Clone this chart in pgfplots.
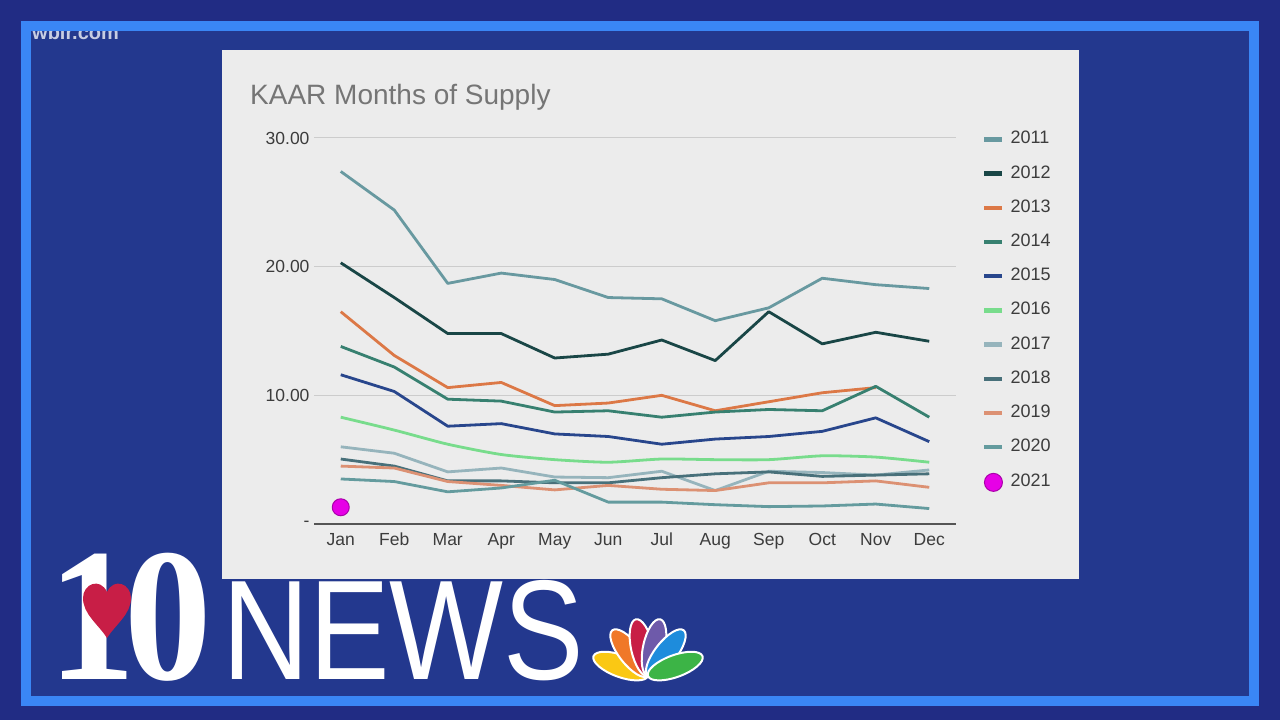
\documentclass[border=0pt]{standalone}
\usepackage{fontspec}
\setmainfont{Liberation Sans}
\newfontfamily\serifb{Liberation Serif}
\usepackage{pgfplots}
\usepackage{pgfplotstable}
\pgfplotsset{compat=1.18}

\definecolor{bgblue}{RGB}{33,44,132}
\definecolor{innerblue}{RGB}{35,56,142}
\definecolor{framecol}{RGB}{58,134,245}
\definecolor{panelgray}{RGB}{236,236,236}
\definecolor{gridgray}{RGB}{204,204,204}
\definecolor{axisdark}{RGB}{85,85,85}
\definecolor{tickcol}{RGB}{60,60,60}
\definecolor{titlecol}{RGB}{117,117,117}
\definecolor{c2011}{RGB}{104,153,160}
\definecolor{c2012}{RGB}{25,70,70}
\definecolor{c2013}{RGB}{220,120,70}
\definecolor{c2014}{RGB}{55,128,112}
\definecolor{c2015}{RGB}{40,70,140}
\definecolor{c2016}{RGB}{120,220,140}
\definecolor{c2017}{RGB}{150,180,188}
\definecolor{c2018}{RGB}{72,112,122}
\definecolor{c2019}{RGB}{220,145,115}
\definecolor{c2020}{RGB}{100,155,158}
\definecolor{c2021}{RGB}{230,0,230}
\definecolor{c2021d}{RGB}{170,0,170}
\definecolor{heartred}{RGB}{200,30,70}
\definecolor{pyellow}{RGB}{250,200,20}
\definecolor{porange}{RGB}{240,120,40}
\definecolor{pred}{RGB}{200,30,70}
\definecolor{ppurple}{RGB}{110,90,170}
\definecolor{pblue}{RGB}{30,140,220}
\definecolor{pgreen}{RGB}{60,180,70}

\pgfplotstableread{
m y2011 y2012 y2013 y2014 y2015 y2016 y2017 y2018 y2019 y2020
0 27.4 20.3 16.5 13.8 11.6 8.3 6.0 5.05 4.5 3.5
1 24.4 17.6 13.1 12.2 10.3 7.3 5.5 4.5 4.35 3.3
2 18.7 14.8 10.6 9.7 7.6 6.2 4.05 3.35 3.3 2.5
3 19.5 14.8 11.0 9.55 7.8 5.4 4.35 3.35 3.0 2.8
4 19.0 12.9 9.2 8.7 7.0 5.0 3.65 3.2 2.65 3.4
5 17.6 13.2 9.4 8.8 6.8 4.8 3.6 3.2 3.0 1.7
6 17.5 14.3 10.0 8.3 6.2 5.05 4.1 3.6 2.7 1.7
7 15.8 12.7 8.8 8.7 6.6 5.0 2.6 3.9 2.6 1.5
8 16.8 16.5 9.5 8.9 6.8 5.0 4.1 4.05 3.2 1.35
9 19.1 14.0 10.2 8.8 7.2 5.3 4.0 3.7 3.2 1.4
10 18.6 14.9 10.6 10.7 8.25 5.2 3.8 3.8 3.35 1.55
11 18.3 14.2 nan 8.3 6.4 4.8 4.2 3.9 2.85 1.2
}\datatable

\begin{document}
\begin{tikzpicture}
\useasboundingbox (0pt,0pt) rectangle (1280pt,720pt);
\clip (0pt,0pt) rectangle (1280pt,720pt);
\fill[bgblue] (0pt,0pt) rectangle (1280pt,720pt);
\fill[innerblue] (26pt,19pt) rectangle (1254pt,693.5pt);
\node[anchor=base west, inner sep=0pt, text=white, opacity=0.75,
      font=\fontsize{20}{22}\selectfont\bfseries] at (32pt,680pt) {wbir.com};
\draw[framecol, line width=10pt] (26pt,19pt) rectangle (1254pt,693.5pt);
\fill[panelgray] (222pt,141pt) rectangle (1079pt,670pt);
\node[anchor=base west, inner sep=0pt, text=titlecol,
      font=\fontsize{28}{30}\selectfont] at (250pt,615pt) {KAAR Months of Supply};

\begin{axis}[
  at={(314pt,196pt)}, anchor=south west,
  scale only axis, width=642pt, height=386pt,
  xmin=-0.5, xmax=11.5, ymin=0, ymax=30,
  xtick={0,...,11},
  xticklabels={Jan,Feb,Mar,Apr,May,Jun,Jul,Aug,Sep,Oct,Nov,Dec},
  ytick={10,20,30}, yticklabels={10.00,20.00,30.00},
  extra y ticks={0}, extra y tick labels={-},
  extra y tick style={grid style={draw=axisdark, line width=2pt}},
  ymajorgrids, grid style={draw=gridgray, line width=1pt},
  axis line style={draw=none},
  major tick length=0pt, tick style={draw=none},
  tick label style={font=\fontsize{17.5}{20}\selectfont, text=tickcol},
  xticklabel style={text height=13pt, text depth=4pt, yshift=-5pt},
  yticklabel style={xshift=-1pt},
  clip=false,
  legend cell align=left,
  legend style={at={(rel axis cs:1.0405,1.019)}, anchor=north west,
    draw=none, fill=none, inner sep=0pt,
    font=\fontsize{18}{20}\selectfont, text=tickcol,
    row sep=17.2pt, column sep=6pt,
    nodes={text height=13pt, text depth=4pt, inner ysep=0pt, inner xsep=0pt}},
  legend image code/.code={\draw[#1, line width=4.5pt, line cap=butt] (0pt,0pt) -- (18pt,0pt);},
  every axis plot/.append style={line width=2.8pt, line join=round},
]
\addplot[c2011, no marks] table[x=m, y=y2011] {\datatable};
\addlegendentry{2011}
\addplot[c2012, no marks] table[x=m, y=y2012] {\datatable};
\addlegendentry{2012}
\addplot[c2013, no marks, unbounded coords=discard] table[x=m, y=y2013] {\datatable};
\addlegendentry{2013}
\addplot[c2014, no marks] table[x=m, y=y2014] {\datatable};
\addlegendentry{2014}
\addplot[c2015, no marks] table[x=m, y=y2015] {\datatable};
\addlegendentry{2015}
\addplot[c2016, no marks, smooth, tension=0.4] table[x=m, y=y2016] {\datatable};
\addlegendentry{2016}
\addplot[c2017, no marks] table[x=m, y=y2017] {\datatable};
\addlegendentry{2017}
\addplot[c2018, no marks] table[x=m, y=y2018] {\datatable};
\addlegendentry{2018}
\addplot[c2019, no marks] table[x=m, y=y2019] {\datatable};
\addlegendentry{2019}
\addplot[c2020, no marks] table[x=m, y=y2020] {\datatable};
\addlegendentry{2020}
\addplot[only marks, mark=*, mark size=8.5pt, line width=1pt,
  mark options={fill=c2021, draw=c2021d},
  legend image code/.code={\fill[c2021, draw=c2021d, line width=1pt] (9pt,0pt) circle (9pt);}]
  coordinates {(0,1.3)};
\addlegendentry{2021}
\end{axis}

% 10NEWS logo
\node[anchor=base west, inner sep=0pt, text=white, xscale=0.92,
      font=\serifb\bfseries\fontsize{190}{190}\selectfont] at (48pt,40pt) {1\kern-12pt0};
\fill[heartred] (107pt,82pt)
  .. controls (98pt,96pt) and (83pt,106pt) .. (83pt,122pt)
  .. controls (83pt,136pt) and (100pt,143pt) .. (107pt,128pt)
  .. controls (114pt,143pt) and (131pt,136pt) .. (131pt,122pt)
  .. controls (131pt,106pt) and (116pt,96pt) .. (107pt,82pt) -- cycle;
\node[anchor=base west, inner sep=0pt, text=white, xscale=0.85,
      font=\fontsize{142}{142}\selectfont] at (222pt,40pt) {NEWS};
\begin{scope}[shift={(648pt,44pt)}]
\foreach \a/\c in {160/pyellow,128/porange,102/pred,78/ppurple,52/pblue,20/pgreen}{
  \fill[\c, draw=white, line width=2pt, rotate=\a] (29pt,0pt) ellipse (29pt and 11pt);
}
\end{scope}
\end{tikzpicture}
\end{document}
